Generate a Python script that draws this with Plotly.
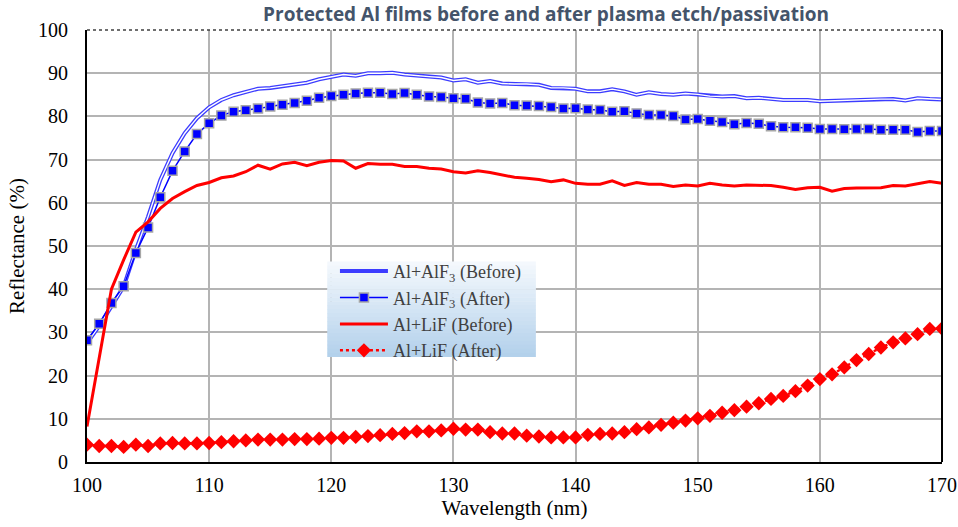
import plotly.graph_objects as go

wavelength = list(range(100, 171))

alf3_before = [27.5, 31.5, 36.0, 40.6, 49.1, 56.8, 65.3, 71.5, 76.1, 79.6,
               82.1, 83.8, 84.9, 85.7, 86.4, 86.6, 87.0, 87.3, 87.8, 88.6,
               89.2, 89.7, 89.4, 90.0, 90.0, 90.1, 89.7, 89.4, 89.2, 89.0,
               88.3, 88.6, 87.8, 88.2, 87.6, 87.5, 87.5, 87.3, 86.6, 86.6,
               86.4, 85.8, 85.8, 86.3, 85.8, 85.0, 85.6, 85.2, 85.0, 85.3,
               85.1, 84.7, 84.6, 84.7, 84.2, 84.3, 84.0, 83.8, 83.8, 83.8,
               83.5, 83.6, 83.7, 83.9, 84.0, 84.0, 84.0, 83.7, 84.2, 84.0, 83.9]

alf3_after = [28.2, 32.0, 36.8, 40.7, 48.4, 54.3, 61.3, 67.4, 71.9, 75.9,
              78.4, 80.2, 81.1, 81.4, 81.8, 82.3, 82.7, 83.1, 83.6, 84.3,
              84.7, 85.0, 85.3, 85.5, 85.5, 85.2, 85.4, 85.0, 84.6, 84.5,
              84.2, 84.1, 83.2, 83.0, 83.1, 82.6, 82.5, 82.4, 82.2, 81.8,
              81.9, 81.6, 81.5, 81.1, 81.2, 80.7, 80.3, 80.3, 80.1, 79.3,
              79.4, 79.0, 78.7, 78.2, 78.5, 78.3, 77.7, 77.5, 77.5, 77.4,
              77.1, 77.1, 77.0, 77.1, 77.1, 76.9, 76.9, 76.9, 76.4, 76.6, 76.6]

lif_before = [8.2, 24.0, 40.0, 46.8, 53.2, 55.6, 58.7, 61.0, 62.6, 64.0,
              64.7, 65.8, 66.2, 67.2, 68.7, 67.8, 69.0, 69.4, 68.6, 69.4,
              69.8, 69.7, 68.0, 69.1, 68.9, 68.9, 68.4, 68.4, 68.0, 67.8,
              67.2, 66.9, 67.4, 67.0, 66.4, 65.9, 65.7, 65.4, 64.9, 65.3,
              64.5, 64.3, 64.3, 65.1, 64.0, 64.7, 64.3, 64.3, 63.8, 64.1,
              63.9, 64.5, 64.1, 63.9, 64.1, 64.1, 64.0, 63.6, 63.1, 63.5,
              63.6, 62.7, 63.3, 63.4, 63.4, 63.5, 64.0, 63.9, 64.4, 64.9, 64.5]

lif_after = [4.0, 3.7, 3.7, 3.5, 4.0, 3.7, 4.3, 4.4, 4.3, 4.3,
             4.4, 4.6, 4.8, 5.0, 5.2, 5.2, 5.2, 5.3, 5.3, 5.4,
             5.6, 5.6, 5.8, 6.0, 6.2, 6.5, 6.7, 7.1, 7.1, 7.3,
             7.7, 7.5, 7.5, 6.9, 6.6, 6.6, 6.1, 5.9, 5.7, 5.7,
             5.7, 6.3, 6.5, 6.6, 6.9, 7.6, 8.0, 8.6, 9.1, 9.6,
             10.1, 10.7, 11.4, 12.0, 12.8, 13.6, 14.6, 15.3, 16.4, 17.7,
             19.2, 20.3, 21.9, 23.6, 25.0, 26.5, 27.7, 28.6, 29.6, 30.8, 30.9]

series_names = ["Al+AlF<sub>3</sub> (Before)", "Al+AlF<sub>3</sub> (After)",
                "Al+LiF (Before)", "Al+LiF (After)"]

x_ticks = [100, 110, 120, 130, 140, 150, 160, 170]
y_ticks = [0, 10, 20, 30, 40, 50, 60, 70, 80, 90, 100]

serif = "Liberation Serif"

fig = go.Figure()

# Double line: blue outer + white inner
fig.add_trace(go.Scatter(x=wavelength, y=alf3_before, mode="lines",
                         name=series_names[0], legendgroup="g1",
                         line=dict(color="#3c3cff", width=4)))
fig.add_trace(go.Scatter(x=wavelength, y=alf3_before, mode="lines",
                         showlegend=False, hoverinfo="skip", legendgroup="g1",
                         line=dict(color="white", width=1.4)))
fig.add_trace(go.Scatter(x=wavelength, y=alf3_after, mode="lines+markers",
                         name=series_names[1], legendgroup="g2",
                         line=dict(color="#0000ff", width=1.5),
                         marker=dict(symbol="square", size=9, color="#0000ff",
                                     line=dict(color="#a6a6a6", width=1.5))))
fig.add_trace(go.Scatter(x=wavelength, y=lif_before, mode="lines",
                         name=series_names[2], legendgroup="g3",
                         line=dict(color="#ff0000", width=3)))
fig.add_trace(go.Scatter(x=wavelength, y=lif_after, mode="lines+markers",
                         name=series_names[3], legendgroup="g4",
                         line=dict(color="#ff0000", width=2.5, dash="dot"),
                         marker=dict(symbol="diamond", size=11, color="#ff0000",
                                     line=dict(width=0))))

# gradient legend background
shapes = []
lx0, lx1, ly0, ly1 = 0.281, 0.525, 0.243, 0.463
n = 24
top = (245, 249, 253)
bot = (178, 208, 235)
for i in range(n):
    t = (i + 0.5) / n
    c = tuple(int(round(top[k] + (bot[k] - top[k]) * t)) for k in range(3))
    y_hi = ly1 - (ly1 - ly0) * i / n
    y_lo = ly1 - (ly1 - ly0) * (i + 1) / n
    shapes.append(dict(type="rect", xref="paper", yref="paper",
                       x0=lx0, x1=lx1, y0=y_lo, y1=y_hi + 0.001,
                       fillcolor="rgb(%d,%d,%d)" % c, line=dict(width=0),
                       layer="above"))
# right and top frame lines
shapes.append(dict(type="line", xref="paper", yref="paper", x0=1, x1=1, y0=0, y1=1,
                   line=dict(color="black", width=2), layer="above"))
shapes.append(dict(type="line", xref="paper", yref="paper", x0=0, x1=1, y0=1, y1=1,
                   line=dict(color="#404040", width=1.5, dash="dot"), layer="above"))

fig.update_layout(
    width=958, height=527,
    margin=dict(l=87, r=16, t=30, b=65),
    paper_bgcolor="white", plot_bgcolor="white",
    font=dict(family=serif, size=20, color="black"),
    title=dict(text="<b>Protected Al films before and after plasma etch/passivation</b>",
               x=0.57, xanchor="center", y=0.972, yanchor="middle",
               font=dict(family="Open Sans", size=19, color="#44546a")),
    shapes=shapes,
    showlegend=True,
    legend=dict(x=0.29, y=0.484, xanchor="left", yanchor="top",
                bgcolor="rgba(0,0,0,0)", borderwidth=0,
                font=dict(family=serif, size=18, color="#404040"),
                itemwidth=48, traceorder="grouped", tracegroupgap=0),
    xaxis=dict(range=[100, 170], tickvals=x_ticks, showgrid=True, automargin=False,
               gridcolor="#b4b4b4", gridwidth=1.5, zeroline=False,
               showline=True, linecolor="black", linewidth=2,
               ticks="outside", ticklen=4, tickcolor="rgba(0,0,0,0)",
               tickfont=dict(family=serif, size=20, color="black"),
               title=dict(text="Wavelength (nm)", standoff=4,
                          font=dict(family=serif, size=21, color="black"))),
    yaxis=dict(range=[0, 100], tickvals=y_ticks, showgrid=True, automargin=False,
               gridcolor="#b4b4b4", gridwidth=1.5, zeroline=False,
               showline=True, linecolor="black", linewidth=2,
               ticks="outside", ticklen=13, tickcolor="rgba(0,0,0,0)",
               tickfont=dict(family=serif, size=20, color="black"),
               title=dict(text="Reflectance (%)", standoff=8,
                          font=dict(family=serif, size=21, color="black"))),
)

fig.write_html("out.html")
